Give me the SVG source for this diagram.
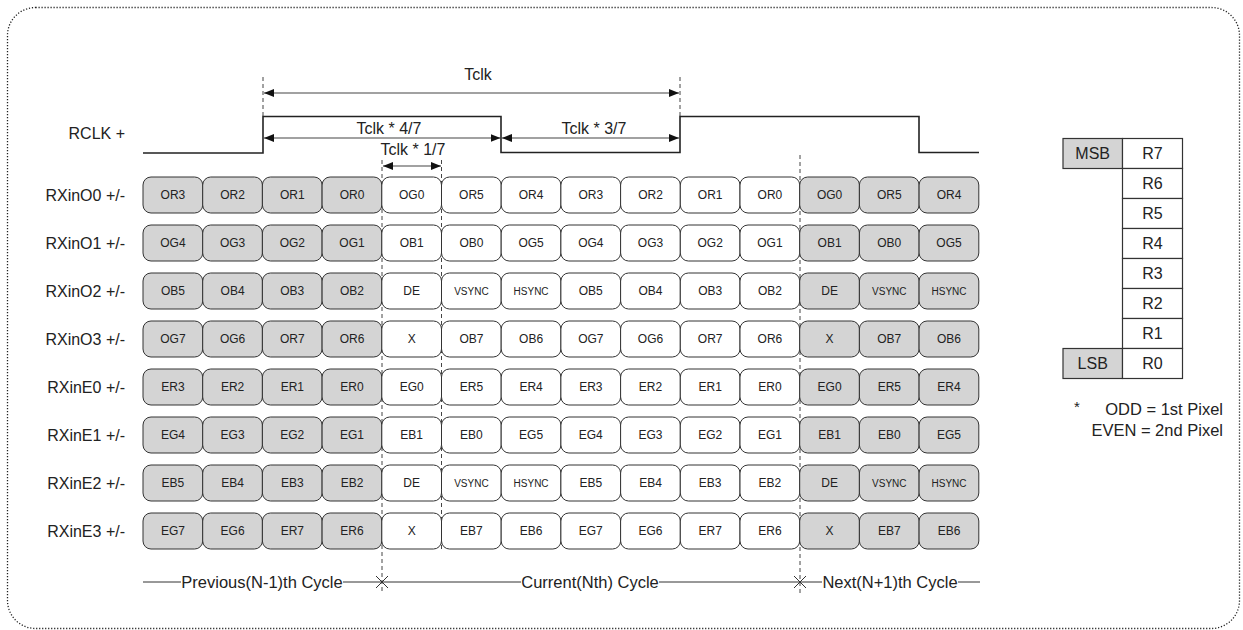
<svg xmlns="http://www.w3.org/2000/svg" width="1243" height="630" viewBox="0 0 1243 630">
<style>
text{font-family:"Liberation Sans",Arial,sans-serif;fill:#222}
.lbl{font-size:16px;text-anchor:end}
.t16{font-size:16px;text-anchor:middle}
.cy{font-size:16.5px;text-anchor:middle}
.c{font-size:12px;text-anchor:middle}
.s{font-size:10px;text-anchor:middle}
.g rect{fill:#d4d4d4;stroke:#333;stroke-width:1}
.w rect{fill:#fff;stroke:#333;stroke-width:1}
.dash{stroke:#444;stroke-width:1;stroke-dasharray:4 3;fill:none}
.arr{stroke:#444;stroke-width:1.2;fill:none;marker-start:url(#ah);marker-end:url(#ah)}
.tb{stroke:#333;stroke-width:1.2}
</style>
<defs>
<marker id="ah" viewBox="0 0 10 8" refX="10" refY="4" markerWidth="10" markerHeight="8" markerUnits="userSpaceOnUse" orient="auto-start-reverse"><path d="M0,0 L10,4 L0,8 Z" fill="#111"/></marker>
</defs>
<rect x="7.5" y="7.5" width="1232" height="621" rx="28" fill="none" stroke="#222" stroke-width="1.3" stroke-dasharray="1.2 1.8"/>

<g id="guides">
<line class="dash" x1="263" y1="77" x2="263" y2="117"/>
<line class="dash" x1="680" y1="77" x2="680" y2="117"/>
<line class="dash" x1="382" y1="160" x2="382" y2="594"/>
<line class="dash" x1="441.5" y1="160" x2="441.5" y2="550"/>
<line class="dash" x1="800" y1="155" x2="800" y2="594"/>
</g>

<g id="clock">
<text class="lbl" x="125" y="139">RCLK +</text>
<path d="M143,153 H263 V116.5 H501 V152.5 H680 V116.5 H919 V152.5 H979" fill="none" stroke="#222" stroke-width="1.6"/>
</g>

<g id="connectors">
<line class="arr" x1="264" y1="93" x2="679" y2="93"/>
<line class="arr" x1="264" y1="138" x2="500.5" y2="138"/>
<line class="arr" x1="502" y1="138" x2="679" y2="138"/>
<line class="arr" x1="383" y1="166" x2="441" y2="166"/>
</g>
<g id="timing-labels">
<text class="t16" x="478" y="80">Tclk</text>
<text class="t16" x="389" y="134">Tclk * 4/7</text>
<text class="t16" x="594" y="134">Tclk * 3/7</text>
<text class="t16" x="413" y="155">Tclk * 1/7</text>
</g>

<g id="row-labels">
<text class="lbl" x="125" y="200.5">RXinO0 +/-</text>
<text class="lbl" x="125" y="248.5">RXinO1 +/-</text>
<text class="lbl" x="125" y="296.5">RXinO2 +/-</text>
<text class="lbl" x="125" y="344.5">RXinO3 +/-</text>
<text class="lbl" x="125" y="392.5">RXinE0 +/-</text>
<text class="lbl" x="125" y="440.5">RXinE1 +/-</text>
<text class="lbl" x="125" y="488.5">RXinE2 +/-</text>
<text class="lbl" x="125" y="536.5">RXinE3 +/-</text>
</g>

<g id="row-O0">
<g id="O0-0" class="g"><rect x="143" y="177" width="59.7" height="36" rx="8"/><text class="c" x="172.9" y="199.3">OR3</text></g>
<g id="O0-1" class="g"><rect x="202.7" y="177" width="59.7" height="36" rx="8"/><text class="c" x="232.6" y="199.3">OR2</text></g>
<g id="O0-2" class="g"><rect x="262.4" y="177" width="59.7" height="36" rx="8"/><text class="c" x="292.3" y="199.3">OR1</text></g>
<g id="O0-3" class="g"><rect x="322.1" y="177" width="59.7" height="36" rx="8"/><text class="c" x="352" y="199.3">OR0</text></g>
<g id="O0-4" class="w"><rect x="381.8" y="177" width="59.7" height="36" rx="8"/><text class="c" x="411.7" y="199.3">OG0</text></g>
<g id="O0-5" class="w"><rect x="441.5" y="177" width="59.7" height="36" rx="8"/><text class="c" x="471.4" y="199.3">OR5</text></g>
<g id="O0-6" class="w"><rect x="501.2" y="177" width="59.7" height="36" rx="8"/><text class="c" x="531.1" y="199.3">OR4</text></g>
<g id="O0-7" class="w"><rect x="560.9" y="177" width="59.7" height="36" rx="8"/><text class="c" x="590.8" y="199.3">OR3</text></g>
<g id="O0-8" class="w"><rect x="620.6" y="177" width="59.7" height="36" rx="8"/><text class="c" x="650.5" y="199.3">OR2</text></g>
<g id="O0-9" class="w"><rect x="680.3" y="177" width="59.7" height="36" rx="8"/><text class="c" x="710.2" y="199.3">OR1</text></g>
<g id="O0-10" class="w"><rect x="740" y="177" width="59.7" height="36" rx="8"/><text class="c" x="769.9" y="199.3">OR0</text></g>
<g id="O0-11" class="g"><rect x="799.7" y="177" width="59.7" height="36" rx="8"/><text class="c" x="829.6" y="199.3">OG0</text></g>
<g id="O0-12" class="g"><rect x="859.4" y="177" width="59.7" height="36" rx="8"/><text class="c" x="889.3" y="199.3">OR5</text></g>
<g id="O0-13" class="g"><rect x="919.1" y="177" width="59.7" height="36" rx="8"/><text class="c" x="949" y="199.3">OR4</text></g>
</g>

<g id="row-O1">
<g id="O1-0" class="g"><rect x="143" y="225" width="59.7" height="36" rx="8"/><text class="c" x="172.9" y="247.3">OG4</text></g>
<g id="O1-1" class="g"><rect x="202.7" y="225" width="59.7" height="36" rx="8"/><text class="c" x="232.6" y="247.3">OG3</text></g>
<g id="O1-2" class="g"><rect x="262.4" y="225" width="59.7" height="36" rx="8"/><text class="c" x="292.3" y="247.3">OG2</text></g>
<g id="O1-3" class="g"><rect x="322.1" y="225" width="59.7" height="36" rx="8"/><text class="c" x="352" y="247.3">OG1</text></g>
<g id="O1-4" class="w"><rect x="381.8" y="225" width="59.7" height="36" rx="8"/><text class="c" x="411.7" y="247.3">OB1</text></g>
<g id="O1-5" class="w"><rect x="441.5" y="225" width="59.7" height="36" rx="8"/><text class="c" x="471.4" y="247.3">OB0</text></g>
<g id="O1-6" class="w"><rect x="501.2" y="225" width="59.7" height="36" rx="8"/><text class="c" x="531.1" y="247.3">OG5</text></g>
<g id="O1-7" class="w"><rect x="560.9" y="225" width="59.7" height="36" rx="8"/><text class="c" x="590.8" y="247.3">OG4</text></g>
<g id="O1-8" class="w"><rect x="620.6" y="225" width="59.7" height="36" rx="8"/><text class="c" x="650.5" y="247.3">OG3</text></g>
<g id="O1-9" class="w"><rect x="680.3" y="225" width="59.7" height="36" rx="8"/><text class="c" x="710.2" y="247.3">OG2</text></g>
<g id="O1-10" class="w"><rect x="740" y="225" width="59.7" height="36" rx="8"/><text class="c" x="769.9" y="247.3">OG1</text></g>
<g id="O1-11" class="g"><rect x="799.7" y="225" width="59.7" height="36" rx="8"/><text class="c" x="829.6" y="247.3">OB1</text></g>
<g id="O1-12" class="g"><rect x="859.4" y="225" width="59.7" height="36" rx="8"/><text class="c" x="889.3" y="247.3">OB0</text></g>
<g id="O1-13" class="g"><rect x="919.1" y="225" width="59.7" height="36" rx="8"/><text class="c" x="949" y="247.3">OG5</text></g>
</g>

<g id="row-O2">
<g id="O2-0" class="g"><rect x="143" y="273" width="59.7" height="36" rx="8"/><text class="c" x="172.9" y="295.3">OB5</text></g>
<g id="O2-1" class="g"><rect x="202.7" y="273" width="59.7" height="36" rx="8"/><text class="c" x="232.6" y="295.3">OB4</text></g>
<g id="O2-2" class="g"><rect x="262.4" y="273" width="59.7" height="36" rx="8"/><text class="c" x="292.3" y="295.3">OB3</text></g>
<g id="O2-3" class="g"><rect x="322.1" y="273" width="59.7" height="36" rx="8"/><text class="c" x="352" y="295.3">OB2</text></g>
<g id="O2-4" class="w"><rect x="381.8" y="273" width="59.7" height="36" rx="8"/><text class="c" x="411.7" y="295.3">DE</text></g>
<g id="O2-5" class="w"><rect x="441.5" y="273" width="59.7" height="36" rx="8"/><text class="s" x="471.4" y="294.6">VSYNC</text></g>
<g id="O2-6" class="w"><rect x="501.2" y="273" width="59.7" height="36" rx="8"/><text class="s" x="531.1" y="294.6">HSYNC</text></g>
<g id="O2-7" class="w"><rect x="560.9" y="273" width="59.7" height="36" rx="8"/><text class="c" x="590.8" y="295.3">OB5</text></g>
<g id="O2-8" class="w"><rect x="620.6" y="273" width="59.7" height="36" rx="8"/><text class="c" x="650.5" y="295.3">OB4</text></g>
<g id="O2-9" class="w"><rect x="680.3" y="273" width="59.7" height="36" rx="8"/><text class="c" x="710.2" y="295.3">OB3</text></g>
<g id="O2-10" class="w"><rect x="740" y="273" width="59.7" height="36" rx="8"/><text class="c" x="769.9" y="295.3">OB2</text></g>
<g id="O2-11" class="g"><rect x="799.7" y="273" width="59.7" height="36" rx="8"/><text class="c" x="829.6" y="295.3">DE</text></g>
<g id="O2-12" class="g"><rect x="859.4" y="273" width="59.7" height="36" rx="8"/><text class="s" x="889.3" y="294.6">VSYNC</text></g>
<g id="O2-13" class="g"><rect x="919.1" y="273" width="59.7" height="36" rx="8"/><text class="s" x="949" y="294.6">HSYNC</text></g>
</g>

<g id="row-O3">
<g id="O3-0" class="g"><rect x="143" y="321" width="59.7" height="36" rx="8"/><text class="c" x="172.9" y="343.3">OG7</text></g>
<g id="O3-1" class="g"><rect x="202.7" y="321" width="59.7" height="36" rx="8"/><text class="c" x="232.6" y="343.3">OG6</text></g>
<g id="O3-2" class="g"><rect x="262.4" y="321" width="59.7" height="36" rx="8"/><text class="c" x="292.3" y="343.3">OR7</text></g>
<g id="O3-3" class="g"><rect x="322.1" y="321" width="59.7" height="36" rx="8"/><text class="c" x="352" y="343.3">OR6</text></g>
<g id="O3-4" class="w"><rect x="381.8" y="321" width="59.7" height="36" rx="8"/><text class="c" x="411.7" y="343.3">X</text></g>
<g id="O3-5" class="w"><rect x="441.5" y="321" width="59.7" height="36" rx="8"/><text class="c" x="471.4" y="343.3">OB7</text></g>
<g id="O3-6" class="w"><rect x="501.2" y="321" width="59.7" height="36" rx="8"/><text class="c" x="531.1" y="343.3">OB6</text></g>
<g id="O3-7" class="w"><rect x="560.9" y="321" width="59.7" height="36" rx="8"/><text class="c" x="590.8" y="343.3">OG7</text></g>
<g id="O3-8" class="w"><rect x="620.6" y="321" width="59.7" height="36" rx="8"/><text class="c" x="650.5" y="343.3">OG6</text></g>
<g id="O3-9" class="w"><rect x="680.3" y="321" width="59.7" height="36" rx="8"/><text class="c" x="710.2" y="343.3">OR7</text></g>
<g id="O3-10" class="w"><rect x="740" y="321" width="59.7" height="36" rx="8"/><text class="c" x="769.9" y="343.3">OR6</text></g>
<g id="O3-11" class="g"><rect x="799.7" y="321" width="59.7" height="36" rx="8"/><text class="c" x="829.6" y="343.3">X</text></g>
<g id="O3-12" class="g"><rect x="859.4" y="321" width="59.7" height="36" rx="8"/><text class="c" x="889.3" y="343.3">OB7</text></g>
<g id="O3-13" class="g"><rect x="919.1" y="321" width="59.7" height="36" rx="8"/><text class="c" x="949" y="343.3">OB6</text></g>
</g>

<g id="row-E0">
<g id="E0-0" class="g"><rect x="143" y="369" width="59.7" height="36" rx="8"/><text class="c" x="172.9" y="391.3">ER3</text></g>
<g id="E0-1" class="g"><rect x="202.7" y="369" width="59.7" height="36" rx="8"/><text class="c" x="232.6" y="391.3">ER2</text></g>
<g id="E0-2" class="g"><rect x="262.4" y="369" width="59.7" height="36" rx="8"/><text class="c" x="292.3" y="391.3">ER1</text></g>
<g id="E0-3" class="g"><rect x="322.1" y="369" width="59.7" height="36" rx="8"/><text class="c" x="352" y="391.3">ER0</text></g>
<g id="E0-4" class="w"><rect x="381.8" y="369" width="59.7" height="36" rx="8"/><text class="c" x="411.7" y="391.3">EG0</text></g>
<g id="E0-5" class="w"><rect x="441.5" y="369" width="59.7" height="36" rx="8"/><text class="c" x="471.4" y="391.3">ER5</text></g>
<g id="E0-6" class="w"><rect x="501.2" y="369" width="59.7" height="36" rx="8"/><text class="c" x="531.1" y="391.3">ER4</text></g>
<g id="E0-7" class="w"><rect x="560.9" y="369" width="59.7" height="36" rx="8"/><text class="c" x="590.8" y="391.3">ER3</text></g>
<g id="E0-8" class="w"><rect x="620.6" y="369" width="59.7" height="36" rx="8"/><text class="c" x="650.5" y="391.3">ER2</text></g>
<g id="E0-9" class="w"><rect x="680.3" y="369" width="59.7" height="36" rx="8"/><text class="c" x="710.2" y="391.3">ER1</text></g>
<g id="E0-10" class="w"><rect x="740" y="369" width="59.7" height="36" rx="8"/><text class="c" x="769.9" y="391.3">ER0</text></g>
<g id="E0-11" class="g"><rect x="799.7" y="369" width="59.7" height="36" rx="8"/><text class="c" x="829.6" y="391.3">EG0</text></g>
<g id="E0-12" class="g"><rect x="859.4" y="369" width="59.7" height="36" rx="8"/><text class="c" x="889.3" y="391.3">ER5</text></g>
<g id="E0-13" class="g"><rect x="919.1" y="369" width="59.7" height="36" rx="8"/><text class="c" x="949" y="391.3">ER4</text></g>
</g>

<g id="row-E1">
<g id="E1-0" class="g"><rect x="143" y="417" width="59.7" height="36" rx="8"/><text class="c" x="172.9" y="439.3">EG4</text></g>
<g id="E1-1" class="g"><rect x="202.7" y="417" width="59.7" height="36" rx="8"/><text class="c" x="232.6" y="439.3">EG3</text></g>
<g id="E1-2" class="g"><rect x="262.4" y="417" width="59.7" height="36" rx="8"/><text class="c" x="292.3" y="439.3">EG2</text></g>
<g id="E1-3" class="g"><rect x="322.1" y="417" width="59.7" height="36" rx="8"/><text class="c" x="352" y="439.3">EG1</text></g>
<g id="E1-4" class="w"><rect x="381.8" y="417" width="59.7" height="36" rx="8"/><text class="c" x="411.7" y="439.3">EB1</text></g>
<g id="E1-5" class="w"><rect x="441.5" y="417" width="59.7" height="36" rx="8"/><text class="c" x="471.4" y="439.3">EB0</text></g>
<g id="E1-6" class="w"><rect x="501.2" y="417" width="59.7" height="36" rx="8"/><text class="c" x="531.1" y="439.3">EG5</text></g>
<g id="E1-7" class="w"><rect x="560.9" y="417" width="59.7" height="36" rx="8"/><text class="c" x="590.8" y="439.3">EG4</text></g>
<g id="E1-8" class="w"><rect x="620.6" y="417" width="59.7" height="36" rx="8"/><text class="c" x="650.5" y="439.3">EG3</text></g>
<g id="E1-9" class="w"><rect x="680.3" y="417" width="59.7" height="36" rx="8"/><text class="c" x="710.2" y="439.3">EG2</text></g>
<g id="E1-10" class="w"><rect x="740" y="417" width="59.7" height="36" rx="8"/><text class="c" x="769.9" y="439.3">EG1</text></g>
<g id="E1-11" class="g"><rect x="799.7" y="417" width="59.7" height="36" rx="8"/><text class="c" x="829.6" y="439.3">EB1</text></g>
<g id="E1-12" class="g"><rect x="859.4" y="417" width="59.7" height="36" rx="8"/><text class="c" x="889.3" y="439.3">EB0</text></g>
<g id="E1-13" class="g"><rect x="919.1" y="417" width="59.7" height="36" rx="8"/><text class="c" x="949" y="439.3">EG5</text></g>
</g>

<g id="row-E2">
<g id="E2-0" class="g"><rect x="143" y="465" width="59.7" height="36" rx="8"/><text class="c" x="172.9" y="487.3">EB5</text></g>
<g id="E2-1" class="g"><rect x="202.7" y="465" width="59.7" height="36" rx="8"/><text class="c" x="232.6" y="487.3">EB4</text></g>
<g id="E2-2" class="g"><rect x="262.4" y="465" width="59.7" height="36" rx="8"/><text class="c" x="292.3" y="487.3">EB3</text></g>
<g id="E2-3" class="g"><rect x="322.1" y="465" width="59.7" height="36" rx="8"/><text class="c" x="352" y="487.3">EB2</text></g>
<g id="E2-4" class="w"><rect x="381.8" y="465" width="59.7" height="36" rx="8"/><text class="c" x="411.7" y="487.3">DE</text></g>
<g id="E2-5" class="w"><rect x="441.5" y="465" width="59.7" height="36" rx="8"/><text class="s" x="471.4" y="486.6">VSYNC</text></g>
<g id="E2-6" class="w"><rect x="501.2" y="465" width="59.7" height="36" rx="8"/><text class="s" x="531.1" y="486.6">HSYNC</text></g>
<g id="E2-7" class="w"><rect x="560.9" y="465" width="59.7" height="36" rx="8"/><text class="c" x="590.8" y="487.3">EB5</text></g>
<g id="E2-8" class="w"><rect x="620.6" y="465" width="59.7" height="36" rx="8"/><text class="c" x="650.5" y="487.3">EB4</text></g>
<g id="E2-9" class="w"><rect x="680.3" y="465" width="59.7" height="36" rx="8"/><text class="c" x="710.2" y="487.3">EB3</text></g>
<g id="E2-10" class="w"><rect x="740" y="465" width="59.7" height="36" rx="8"/><text class="c" x="769.9" y="487.3">EB2</text></g>
<g id="E2-11" class="g"><rect x="799.7" y="465" width="59.7" height="36" rx="8"/><text class="c" x="829.6" y="487.3">DE</text></g>
<g id="E2-12" class="g"><rect x="859.4" y="465" width="59.7" height="36" rx="8"/><text class="s" x="889.3" y="486.6">VSYNC</text></g>
<g id="E2-13" class="g"><rect x="919.1" y="465" width="59.7" height="36" rx="8"/><text class="s" x="949" y="486.6">HSYNC</text></g>
</g>

<g id="row-E3">
<g id="E3-0" class="g"><rect x="143" y="513" width="59.7" height="36" rx="8"/><text class="c" x="172.9" y="535.3">EG7</text></g>
<g id="E3-1" class="g"><rect x="202.7" y="513" width="59.7" height="36" rx="8"/><text class="c" x="232.6" y="535.3">EG6</text></g>
<g id="E3-2" class="g"><rect x="262.4" y="513" width="59.7" height="36" rx="8"/><text class="c" x="292.3" y="535.3">ER7</text></g>
<g id="E3-3" class="g"><rect x="322.1" y="513" width="59.7" height="36" rx="8"/><text class="c" x="352" y="535.3">ER6</text></g>
<g id="E3-4" class="w"><rect x="381.8" y="513" width="59.7" height="36" rx="8"/><text class="c" x="411.7" y="535.3">X</text></g>
<g id="E3-5" class="w"><rect x="441.5" y="513" width="59.7" height="36" rx="8"/><text class="c" x="471.4" y="535.3">EB7</text></g>
<g id="E3-6" class="w"><rect x="501.2" y="513" width="59.7" height="36" rx="8"/><text class="c" x="531.1" y="535.3">EB6</text></g>
<g id="E3-7" class="w"><rect x="560.9" y="513" width="59.7" height="36" rx="8"/><text class="c" x="590.8" y="535.3">EG7</text></g>
<g id="E3-8" class="w"><rect x="620.6" y="513" width="59.7" height="36" rx="8"/><text class="c" x="650.5" y="535.3">EG6</text></g>
<g id="E3-9" class="w"><rect x="680.3" y="513" width="59.7" height="36" rx="8"/><text class="c" x="710.2" y="535.3">ER7</text></g>
<g id="E3-10" class="w"><rect x="740" y="513" width="59.7" height="36" rx="8"/><text class="c" x="769.9" y="535.3">ER6</text></g>
<g id="E3-11" class="g"><rect x="799.7" y="513" width="59.7" height="36" rx="8"/><text class="c" x="829.6" y="535.3">X</text></g>
<g id="E3-12" class="g"><rect x="859.4" y="513" width="59.7" height="36" rx="8"/><text class="c" x="889.3" y="535.3">EB7</text></g>
<g id="E3-13" class="g"><rect x="919.1" y="513" width="59.7" height="36" rx="8"/><text class="c" x="949" y="535.3">EB6</text></g>
</g>

<g id="cycles">
<g stroke="#333" stroke-width="1" fill="none">
<line x1="143" y1="582" x2="181" y2="582"/>
<line x1="343" y1="582" x2="521" y2="582"/>
<line x1="659" y1="582" x2="822" y2="582"/>
<line x1="958" y1="582" x2="980" y2="582"/>
<path d="M376,576 L388,588 M376,588 L388,576 M794,576 L806,588 M794,588 L806,576"/>
</g>
<text class="cy" x="262" y="588">Previous(N-1)th Cycle</text>
<text class="cy" x="590" y="588">Current(Nth) Cycle</text>
<text class="cy" x="890" y="588">Next(N+1)th Cycle</text>
</g>

<g id="bit-table">
<g id="msb"><rect x="1063" y="138.5" width="59.5" height="30" fill="#d4d4d4" class="tb"/><text class="t16" x="1092.7" y="159">MSB</text></g>
<g id="lsb"><rect x="1063" y="348.5" width="59.5" height="30" fill="#d4d4d4" class="tb"/><text class="t16" x="1092.7" y="369">LSB</text></g>
<g id="r7"><rect x="1122.5" y="138.5" width="60" height="30" fill="#fff" class="tb"/><text class="t16" x="1152.5" y="159">R7</text></g>
<g id="r6"><rect x="1122.5" y="168.5" width="60" height="30" fill="#fff" class="tb"/><text class="t16" x="1152.5" y="189">R6</text></g>
<g id="r5"><rect x="1122.5" y="198.5" width="60" height="30" fill="#fff" class="tb"/><text class="t16" x="1152.5" y="219">R5</text></g>
<g id="r4"><rect x="1122.5" y="228.5" width="60" height="30" fill="#fff" class="tb"/><text class="t16" x="1152.5" y="249">R4</text></g>
<g id="r3"><rect x="1122.5" y="258.5" width="60" height="30" fill="#fff" class="tb"/><text class="t16" x="1152.5" y="279">R3</text></g>
<g id="r2"><rect x="1122.5" y="288.5" width="60" height="30" fill="#fff" class="tb"/><text class="t16" x="1152.5" y="309">R2</text></g>
<g id="r1"><rect x="1122.5" y="318.5" width="60" height="30" fill="#fff" class="tb"/><text class="t16" x="1152.5" y="339">R1</text></g>
<g id="r0"><rect x="1122.5" y="348.5" width="60" height="30" fill="#fff" class="tb"/><text class="t16" x="1152.5" y="369">R0</text></g>
</g>

<g id="note">
<text x="1074" y="412" style="font-size:15px">*</text>
<text x="1223" y="415" style="font-size:16.5px;text-anchor:end">ODD = 1st Pixel</text>
<text x="1223" y="436" style="font-size:16.5px;text-anchor:end">EVEN = 2nd Pixel</text>
</g>
</svg>
